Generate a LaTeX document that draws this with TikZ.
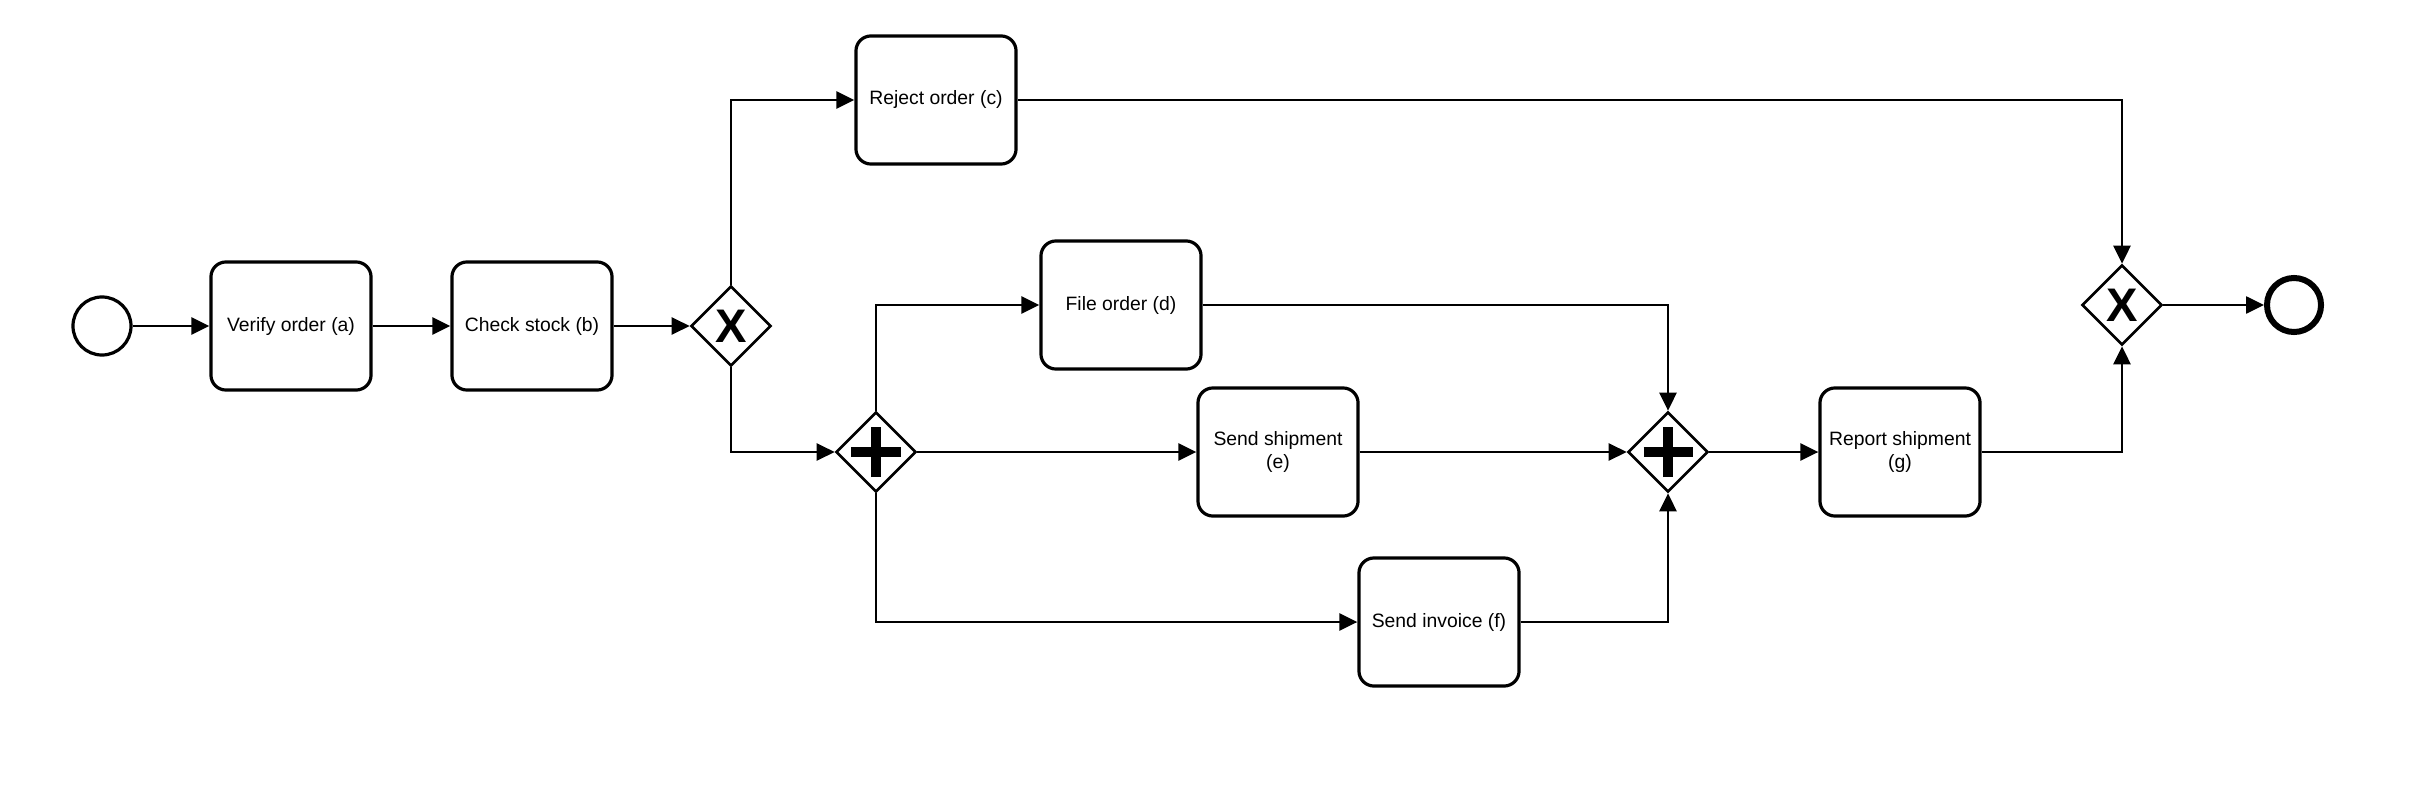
\documentclass[tikz,border=0pt]{standalone}
\usepackage{fontspec}
\setmainfont{Liberation Sans}
\usetikzlibrary{arrows.meta}
\usetikzlibrary{shapes.geometric}
\tikzset{flow/.style = {line width=0.026cm, -{Triangle[length=0.18cm, width=0.17cm]}}}
\tikzset{task/.style = {draw, line width=0.032cm, rounded corners=0.15cm,
                        minimum width=1.6cm, minimum height=1.28cm, inner sep=0pt,
                        align=center, font=\fontsize{5.5pt}{6.8pt}\selectfont}}
\tikzset{gate/.style = {draw, diamond, line width=0.026cm, inner sep=0pt,
                        minimum width=0.8cm, minimum height=0.8cm,
                        font=\fontsize{13.4pt}{14pt}\selectfont\bfseries}}
\tikzset{andgate/.style = {gate, path picture={
                             \draw [line width=0.1cm] ([xshift=-0.245cm]path picture bounding box.center) -- ++(0.49cm, 0);
                             \draw [line width=0.1cm] ([yshift=-0.25cm]path picture bounding box.center) -- ++(0, 0.5cm);}}}
\tikzset{event/.style = {draw, circle, inner sep=0pt, minimum size=0.58cm}}

\begin{document}
\begin{tikzpicture}[x=0.01cm, y=-0.01cm]
    \useasboundingbox (0, 0) rectangle (2418, 788);
    \node [event, line width=0.032cm] (start) at (102, 326) {};
    \node [task] (verify) at (291, 326) {Verify order (a)};
    \node [task] (check) at (532, 326) {Check stock (b)};
    \node [gate] (xsplit) at (731, 326) {X};
    \node [task] (reject) at (936, 100) {Reject order (c)};
    \node [andgate] (asplit) at (876, 452) {};
    \node [task] (file) at (1121, 305) {File order (d)};
    \node [task] (ship) at (1278, 452) {Send shipment\\(e)};
    \node [task] (invoice) at (1439, 622) {Send invoice (f)};
    \node [andgate] (ajoin) at (1668, 452) {};
    \node [task] (report) at (1900, 452) {Report shipment\\(g)};
    \node [gate] (xjoin) at (2122, 305) {X};
    \node [event, line width=0.06cm, minimum size=0.54cm] (end) at (2294, 305) {};
    \draw [flow] (start) -- (verify);
    \draw [flow] (verify) -- (check);
    \draw [flow] (check) -- (xsplit);
    \draw [flow] (xsplit.north) |- (reject);
    \draw [flow] (xsplit.south) |- (asplit);
    \draw [flow] (asplit.north) |- (file);
    \draw [flow] (asplit) -- (ship);
    \draw [flow] (asplit.south) |- (invoice);
    \draw [flow] (file) -| (ajoin.north);
    \draw [flow] (ship) -- (ajoin);
    \draw [flow] (invoice) -| (ajoin.south);
    \draw [flow] (ajoin) -- (report);
    \draw [flow] (reject) -| (xjoin.north);
    \draw [flow] (report) -| (xjoin.south);
    \draw [flow] (xjoin) -- (end);
  \end{tikzpicture}
\end{document}
